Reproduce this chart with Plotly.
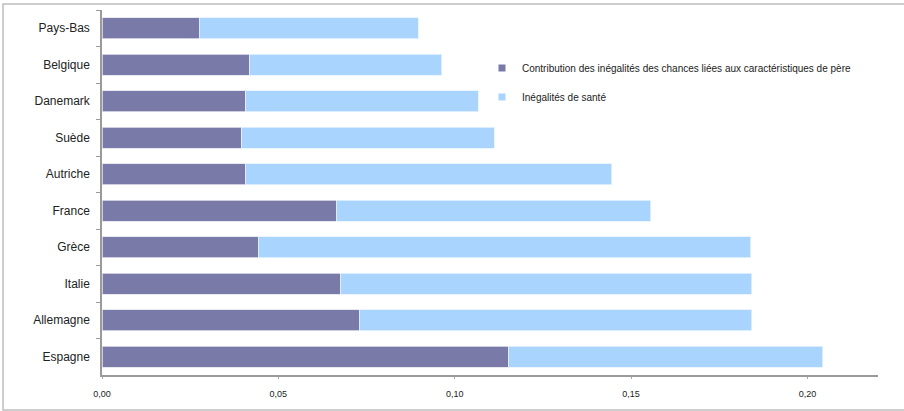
import plotly.graph_objects as go

# Countries, top to bottom
pays = ["Pays-Bas", "Belgique", "Danemark", "Suède", "Autriche",
        "France", "Grèce", "Italie", "Allemagne", "Espagne"]

# Contribution of inequality of opportunity linked to father's characteristics
contribution = [0.0275, 0.0419, 0.0408, 0.0396, 0.0408,
                0.0664, 0.0443, 0.0677, 0.0730, 0.1153]

# Total health inequality (bar end)
total_sante = [0.0897, 0.0963, 0.1066, 0.1112, 0.1445,
               0.1556, 0.1839, 0.1842, 0.1842, 0.2044]

# Remaining part stacked after the contribution
reste = [round(t - c, 4) for t, c in zip(total_sante, contribution)]

x_ticks = [0.00, 0.05, 0.10, 0.15, 0.20]
x_tick_labels = ["0,00", "0,05", "0,10", "0,15", "0,20"]

nom_contrib = "Contribution des inégalités des chances liées aux caractéristiques de père"
nom_sante = "Inégalités de santé"

C_DARK = "#7a7aa9"
C_LIGHT = "#a8d4fe"
FONT = "Liberation Sans, Arial, sans-serif"

W, H = 904, 411
ML, MR, MT, MB = 102, 26, 10, 36
PW, PH = W - ML - MR, H - MT - MB

fig = go.Figure()
fig.add_trace(go.Bar(
    y=pays, x=contribution, orientation="h", name=nom_contrib,
    marker=dict(color=C_DARK, line=dict(color="#e4e4ee", width=0.8)),
    showlegend=False,
))
fig.add_trace(go.Bar(
    y=pays, x=reste, orientation="h", name=nom_sante,
    marker=dict(color=C_LIGHT, line=dict(color="#e6f2ff", width=0.8)),
    showlegend=False,
))

# Legend entries with small square keys
fig.add_trace(go.Scatter(
    x=[None], y=[None], mode="markers", name=nom_contrib,
    marker=dict(symbol="square", size=7, color=C_DARK), legend="legend",
))
fig.add_trace(go.Scatter(
    x=[None], y=[None], mode="markers", name=nom_sante,
    marker=dict(symbol="square", size=7, color=C_LIGHT), legend="legend2",
))

def px_x(p):
    return (p - ML) / PW

def px_y(p):
    return 1 - (p - MT) / PH

legend_common = dict(
    font=dict(family=FONT, size=10, color="#222"),
    bgcolor="rgba(0,0,0,0)", borderwidth=0,
    xanchor="left", yanchor="middle", itemwidth=30,
    tracegroupgap=0,
)

fig.update_layout(
    width=W, height=H,
    margin=dict(l=ML, r=MR, t=MT, b=MB),
    paper_bgcolor="white", plot_bgcolor="white",
    barmode="stack", bargap=0.42,
    font=dict(family=FONT, color="#222"),
    xaxis=dict(
        range=[0, 0.22], tickvals=x_ticks, ticktext=x_tick_labels,
        showgrid=False, zeroline=False,
        showline=True, linecolor="#9a9a9a", linewidth=1.5,
        ticks="outside", ticklen=2, tickcolor="#aaa",
        tickfont=dict(family=FONT, size=9, color="#222"),
        ticklabelstandoff=7,
    ),
    yaxis=dict(
        autorange="reversed", showgrid=False, zeroline=False,
        showline=True, linecolor="#9a9a9a", linewidth=1.5,
        ticks="outside", ticklen=4, tickcolor="#9a9a9a",
        tickson="boundaries",
        tickfont=dict(family=FONT, size=12, color="#222"),
        ticklabelstandoff=8,
    ),
    legend=dict(x=px_x(482), y=px_y(68), **legend_common),
    legend2=dict(x=px_x(482), y=px_y(97), **legend_common),
    shapes=[dict(
        type="rect", xref="paper", yref="paper",
        x0=px_x(3), x1=px_x(W + 5), y0=px_y(410), y1=px_y(4),
        line=dict(color="#bdbdbd", width=1.5), layer="below",
    )],
)

fig.write_html("out.html")
